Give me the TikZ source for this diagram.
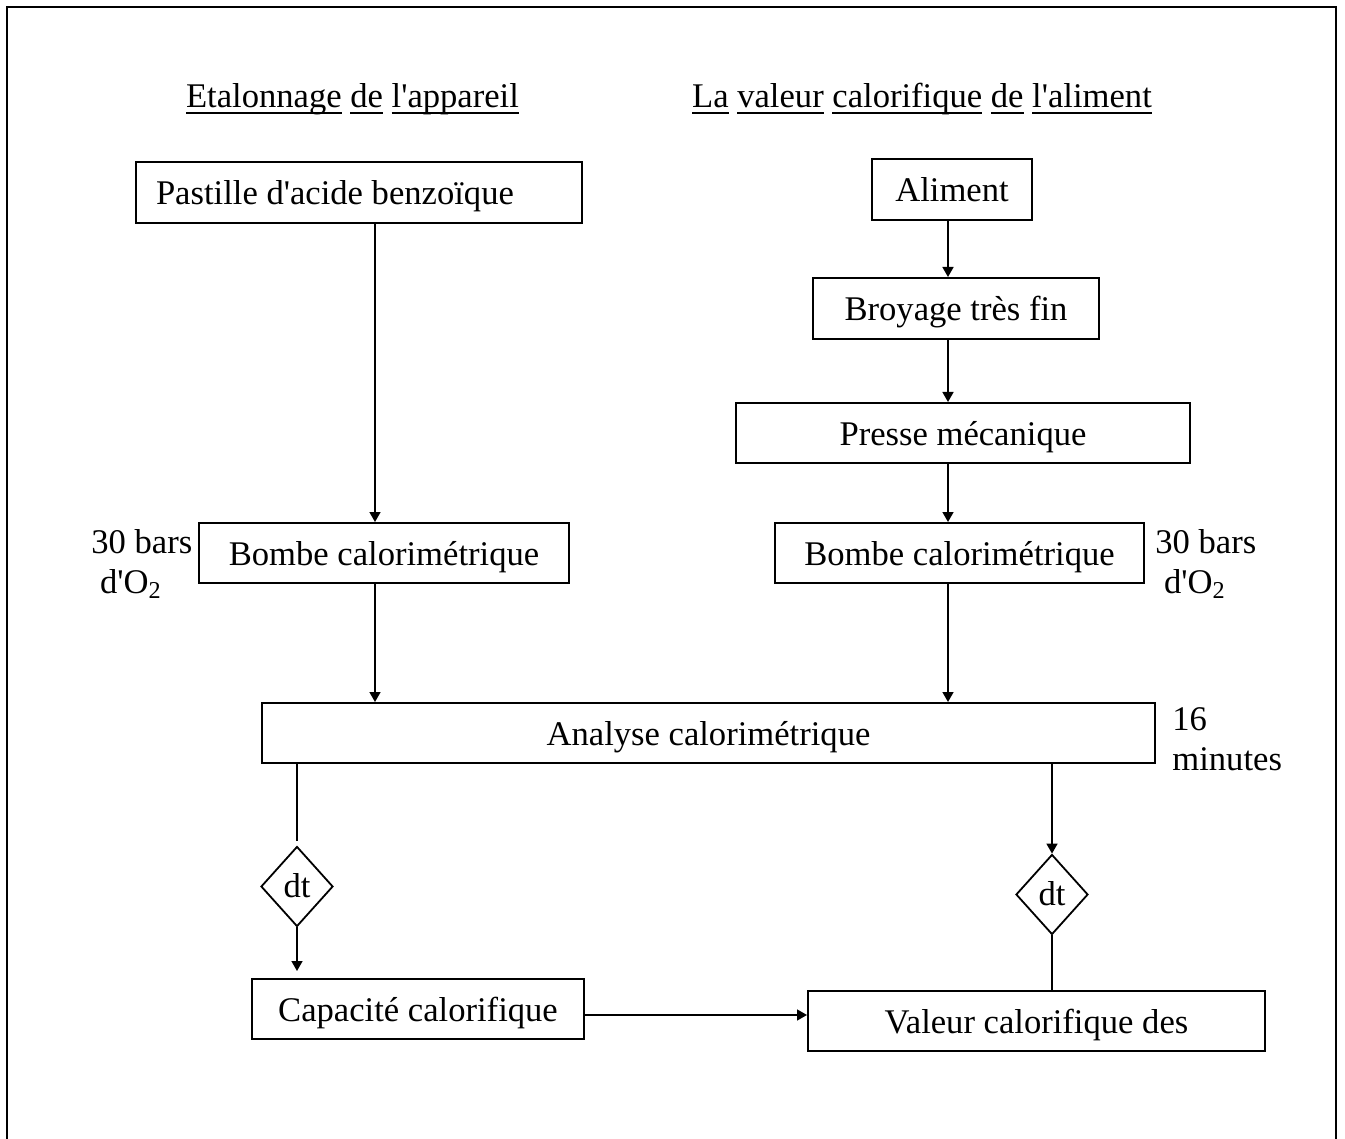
\documentclass[tikz,border=0pt]{standalone}
\usepackage{fontspec}
\newfontfamily\diagfont{Liberation Serif}
\usetikzlibrary{arrows.meta,shapes.geometric,calc}
% word-by-word underline at a fixed depth below the baseline
\newsavebox\uwbox
\newcommand\uw[1]{\sbox\uwbox{#1}\rlap{\rule[-2.95pt]{\wd\uwbox}{0.9pt}}\usebox\uwbox}

\begin{document}
\begin{tikzpicture}[x=0.5pt,y=-0.5pt,
  font=\diagfont\fontsize{17.3pt}{20pt}\selectfont,
  stepbox/.style={draw, line width=1pt, inner sep=0pt, text height=12pt, text depth=0pt},
  gate/.style={diamond, draw, line width=0.9pt, minimum width=36pt, minimum height=40pt,
    inner sep=0pt, text height=11pt, text depth=0pt},
  note/.style={align=left, inner sep=0pt, anchor=north west},
  arr/.style={line width=0.8pt, -{Triangle[length=5pt,width=5.5pt]}},
  link/.style={line width=0.8pt}]
\useasboundingbox (0,0) rectangle (1345,1139);

% outer frame (open at the bottom)
\draw[line width=1.2pt] (7,1139) -- (7,7) -- (1336,7) -- (1336,1139);

% column headings
\node[anchor=base] (tL) at (352.5,108) {\uw{Etalonnage} \uw{de} \uw{l'appareil}};
\node[anchor=base] (tR) at (922,108) {\uw{La} \uw{valeur} \uw{calorifique} \uw{de} \uw{l'aliment}};

% calibration column
\node[stepbox, minimum width=223pt, minimum height=30.5pt, inner xsep=10pt]
  (pst) at (359,192.5) {\makebox[203pt][l]{Pastille d'acide benzoïque}};
\node[stepbox, minimum width=185pt, minimum height=30pt] (bl) at (384,553) {Bombe calorimétrique};

% food column
\node[stepbox, minimum width=80pt, minimum height=30.5pt] (alim) at (952,189.5) {Aliment};
\node[stepbox, minimum width=143pt, minimum height=30.5pt] (broy) at (956,308.5) {Broyage très fin};
\node[stepbox, minimum width=227pt, minimum height=30pt] (pres) at (963,433) {Presse mécanique};
\node[stepbox, minimum width=184.5pt, minimum height=30pt] (br) at (959.5,553) {Bombe calorimétrique};

% shared analysis and results
\node[stepbox, minimum width=446.5pt, minimum height=30pt] (ana) at (708.5,733) {Analyse calorimétrique};
\node[gate] (dl) at (297,886.5) {dt};
\node[gate] (dr) at (1052,894.5) {dt};
\node[stepbox, minimum width=166pt, minimum height=30pt] (cap) at (418,1009) {Capacité calorifique};
\node[stepbox, minimum width=228.5pt, minimum height=30pt] (val) at (1036.5,1021) {Valeur calorifique des};

% side notes
\node[note] (pL) at (91,529.4) {30 bars\\\hspace*{4.3pt}d'O\textsubscript{2}};
\node[note] (pR) at (1155,529.4) {30 bars\\\hspace*{4.3pt}d'O\textsubscript{2}};
\node[note] (tm) at (1172,707) {16\\minutes};

% connectors
\coordinate (xL) at (375,0);
\coordinate (xR) at (948,0);
\coordinate (yC) at (0,1015);
\draw[arr] (pst.south -| xL) -- (bl.north -| xL);
\draw[arr] (bl.south -| xL) -- (ana.north -| xL);
\draw[arr] (alim.south -| xR) -- (broy.north -| xR);
\draw[arr] (broy.south -| xR) -- (pres.north -| xR);
\draw[arr] (pres.south -| xR) -- (br.north -| xR);
\draw[arr] (br.south -| xR) -- (ana.north -| xR);
\draw[link, shorten >=2.5pt] (ana.south -| dl.north) -- (dl.north);
\draw[arr, shorten >=3.5pt] (dl.south) -- (cap.north -| dl.south);
\draw[arr] (ana.south -| dr.north) -- (dr.north);
\draw[link] (dr.south) -- (val.north -| dr.south);
\draw[arr] (cap.east |- yC) -- (val.west |- yC);
\end{tikzpicture}
\end{document}
